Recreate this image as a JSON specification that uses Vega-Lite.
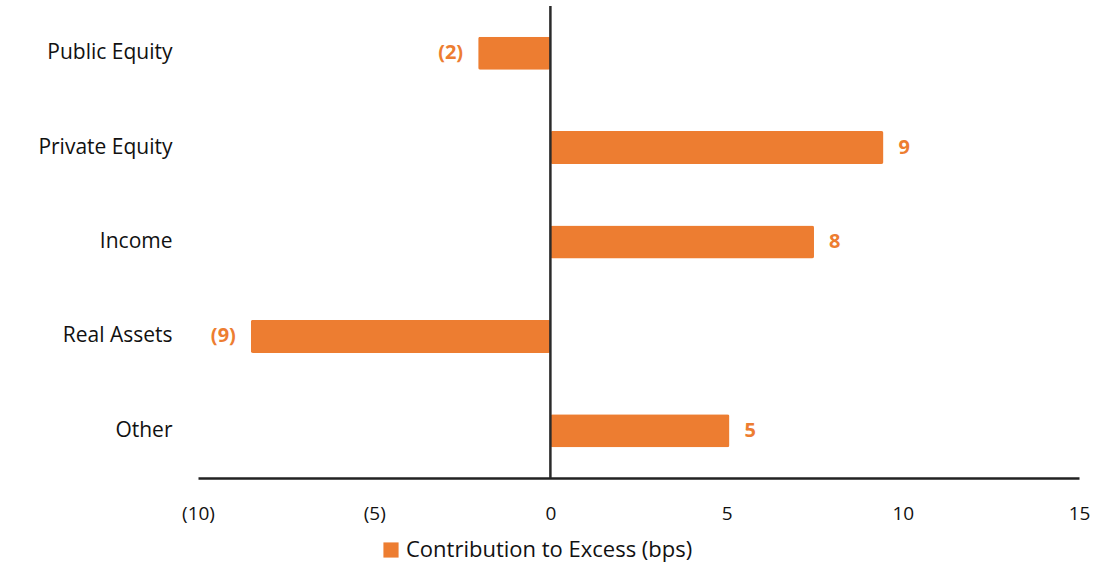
{
  "$schema": "https://vega.github.io/schema/vega-lite/v6.json",
  "autosize": "none",
  "width": 881,
  "height": 472,
  "padding": {"left": 198, "top": 6, "right": 39, "bottom": 86},
  "background": "white",
  "config": {"view": {"stroke": null}, "font": "Open Sans"},
  "data": {
    "values": [
      {"category": "Public Equity", "value": -2.05, "label": "(2)", "series": "Contribution to Excess (bps)"},
      {"category": "Private Equity", "value": 9.45, "label": "9", "series": "Contribution to Excess (bps)"},
      {"category": "Income", "value": 7.48, "label": "8", "series": "Contribution to Excess (bps)"},
      {"category": "Real Assets", "value": -8.5, "label": "(9)", "series": "Contribution to Excess (bps)"},
      {"category": "Other", "value": 5.08, "label": "5", "series": "Contribution to Excess (bps)"}
    ]
  },
  "encoding": {
    "y": {
      "field": "category", "type": "nominal", "sort": null,
      "scale": {"paddingInner": 0.65, "paddingOuter": 0.325},
      "axis": {"title": null, "domain": false, "ticks": false, "labelPadding": 26, "labelFontSize": 21, "labelColor": "#111", "labelFont": "Open Sans", "labelLimit": 0}
    },
    "x": {
      "field": "value", "type": "quantitative",
      "scale": {"domain": [-10, 15], "nice": false, "zero": false},
      "axis": {"title": null, "values": [-10, -5, 0, 5, 10, 15], "grid": false, "ticks": false, "domainColor": "#222", "domainWidth": 2.5, "labelPadding": 26, "labelFontSize": 19, "labelColor": "#111", "labelFlush": false,
        "labelExpr": "datum.value < 0 ? '(' + abs(datum.value) + ')' : datum.value"}
    }
  },
  "layer": [
    {
      "mark": {"type": "bar", "cornerRadius": 2},
      "encoding": {
        "color": {"field": "series", "type": "nominal", "scale": {"range": ["#ED7D31"]},
          "legend": {"title": null, "orient": "none", "legendX": 182, "legendY": 533, "symbolType": "square", "symbolSize": 230, "labelFontSize": 22, "labelColor": "#111", "labelFont": "Open Sans", "symbolStrokeWidth": 0, "labelLimit": 0}}
      }
    },
    {
      "mark": {"type": "rule", "color": "#2a2a2a", "strokeWidth": 2.5},
      "data": {"values": [{"z": 0}]},
      "encoding": {"x": {"field": "z", "type": "quantitative"}, "y": {"value": 0}, "y2": {"value": 472}}
    },
    {
      "transform": [{"filter": "datum.value >= 0"}],
      "mark": {"type": "text", "align": "left", "dx": 15, "fontSize": 20, "fontWeight": "bold", "color": "#ED7D31"},
      "encoding": {"text": {"field": "label"}}
    },
    {
      "transform": [{"filter": "datum.value < 0"}],
      "mark": {"type": "text", "align": "right", "dx": -15, "fontSize": 20, "fontWeight": "bold", "color": "#ED7D31"},
      "encoding": {"text": {"field": "label"}}
    }
  ]
}
